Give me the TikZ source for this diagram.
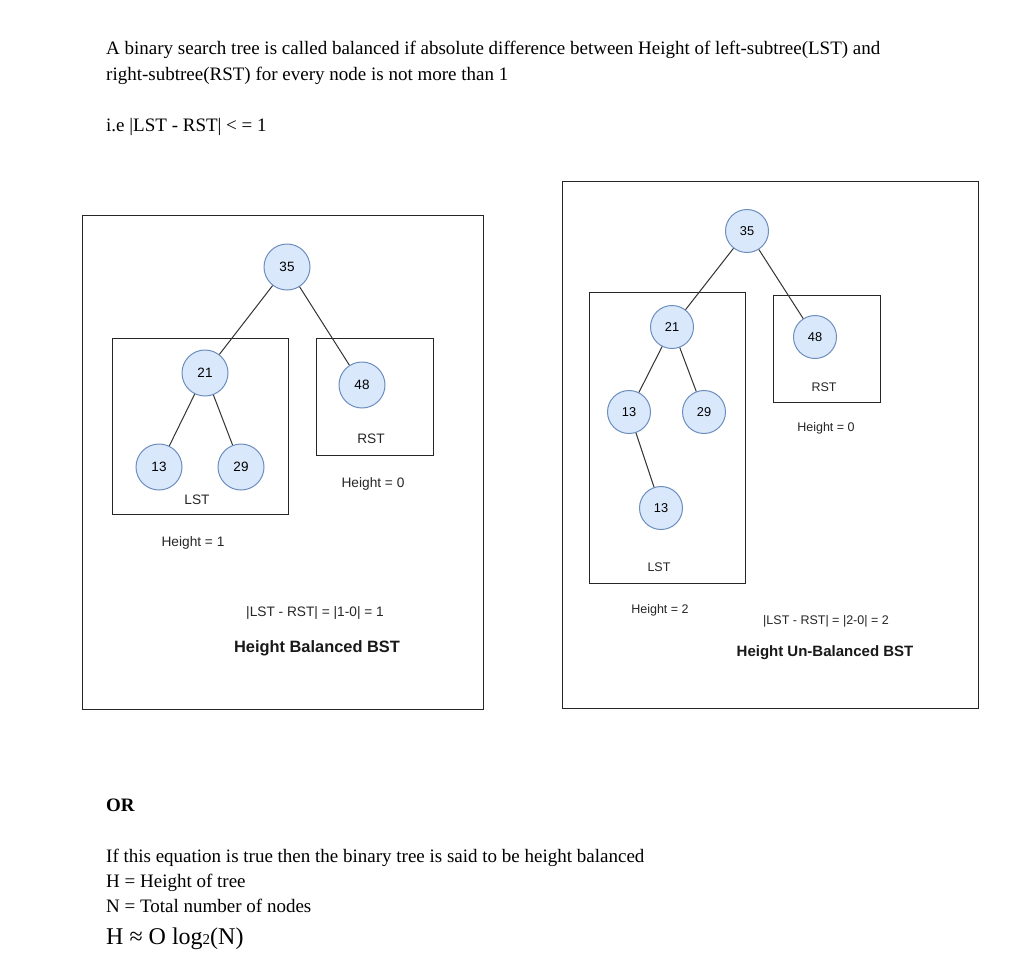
\documentclass[tikz,border=0pt]{standalone}
\usepackage{fontspec}
\setmainfont{Liberation Serif}
\setsansfont{Liberation Sans}
\definecolor{nodefill}{HTML}{DAE8FC}
\definecolor{nodeline}{HTML}{6C8EBF}
\definecolor{edgecol}{HTML}{333333}
\begin{document}
\begin{tikzpicture}[x=1pt,y=-1pt,
	bst/.style={circle,draw=nodeline,fill=nodefill,line width=1pt,inner sep=0pt},
	big/.style={bst,minimum size=46pt,font=\sffamily\fontsize{13.5}{13.5}\selectfont},
	small/.style={bst,minimum size=43pt,font=\sffamily\fontsize{12.8}{12.8}\selectfont},
	edge/.style={draw=edgecol,line width=1pt},
	frame/.style={draw=black!85,line width=1pt},
	lbl/.style={font=\sffamily\fontsize{13.7}{13.7}\selectfont,text=black!85},
	slbl/.style={font=\sffamily\fontsize{12.5}{12.5}\selectfont,text=black!85},
	ttl/.style={font=\sffamily\bfseries\fontsize{16.4}{16.4}\selectfont,text=black!90},
	sttl/.style={font=\sffamily\bfseries\fontsize{15}{15}\selectfont,text=black!90},
	txt/.style={anchor=base west,inner sep=0pt,font=\fontsize{19}{19}\selectfont}]
	\useasboundingbox[fill=white] (0,0) rectangle (1016,972);
	% text above
	\node[txt] (t1) at (106,54) {A binary search tree is called balanced if absolute difference between Height of left-subtree(LST) and};
	\node[txt] (t2) at (106,80) {right-subtree(RST) for every node is not more than 1};
	\node[txt] (t3) at (106,131) {i.e |LST - RST| < = 1};
	% balanced tree
	\draw[frame] (82,215) rectangle (483,709);
	\draw[frame] (112,338) rectangle (288,514);
	\draw[frame] (316,338) rectangle (433,455);
	\node[big] (a35) at (287,267) {35};
	\node[big] (a21) at (205,373) {21};
	\node[big] (a48) at (362,385) {48};
	\node[big] (a13) at (159,467) {13};
	\node[big] (a29) at (241,467) {29};
	\draw[edge] (a35) -- (a21);
	\draw[edge] (a35) -- (a48);
	\draw[edge] (a21) -- (a13);
	\draw[edge] (a21) -- (a29);
	\node[lbl] (alst) at (197,500) {LST};
	\node[lbl] (arst) at (371,439) {RST};
	\node[lbl] (ah0) at (373,484) {Height = 0};
	\node[lbl] (ah1) at (193,543) {Height = 1};
	\node[lbl] (adiff) at (315,613) {|LST - RST| = |1-0| = 1};
	\node[ttl] (atitle) at (317,648) {Height Balanced BST};
	% un-balanced tree
	\draw[frame] (562,181) rectangle (978,708);
	\draw[frame] (589,292) rectangle (745,583);
	\draw[frame] (773,295) rectangle (880,402);
	\node[small] (b35) at (747,231) {35};
	\node[small] (b21) at (672,327) {21};
	\node[small] (b48) at (815,337) {48};
	\node[small] (b13) at (629,412) {13};
	\node[small] (b29) at (704,412) {29};
	\node[small] (b13b) at (661,508) {13};
	\draw[edge] (b35) -- (b21);
	\draw[edge] (b35) -- (b48);
	\draw[edge] (b21) -- (b13);
	\draw[edge] (b21) -- (b29);
	\draw[edge] (b13) -- (b13b);
	\node[slbl] (blst) at (659,567) {LST};
	\node[slbl] (brst) at (824,387) {RST};
	\node[slbl] (bh0) at (826,428) {Height = 0};
	\node[slbl] (bh2) at (660,610) {Height = 2};
	\node[slbl] (bdiff) at (826,621) {|LST - RST| = |2-0| = 2};
	\node[sttl] (btitle) at (825,653) {Height Un-Balanced BST};
	% text below
	\node[txt,font=\bfseries\fontsize{19}{19}\selectfont] (or) at (106,811) {OR};
	\node[txt] (t4) at (106,862) {If this equation is true then the binary tree is said to be height balanced};
	\node[txt] (t5) at (106,887) {H = Height of tree};
	\node[txt] (t6) at (106,912) {N = Total number of nodes};
	\node[txt,font=\fontsize{24}{24}\selectfont] (t7) at (106,944) {H ≈ O log{\fontsize{15}{15}\selectfont 2}(N)};
\end{tikzpicture}
\end{document}
